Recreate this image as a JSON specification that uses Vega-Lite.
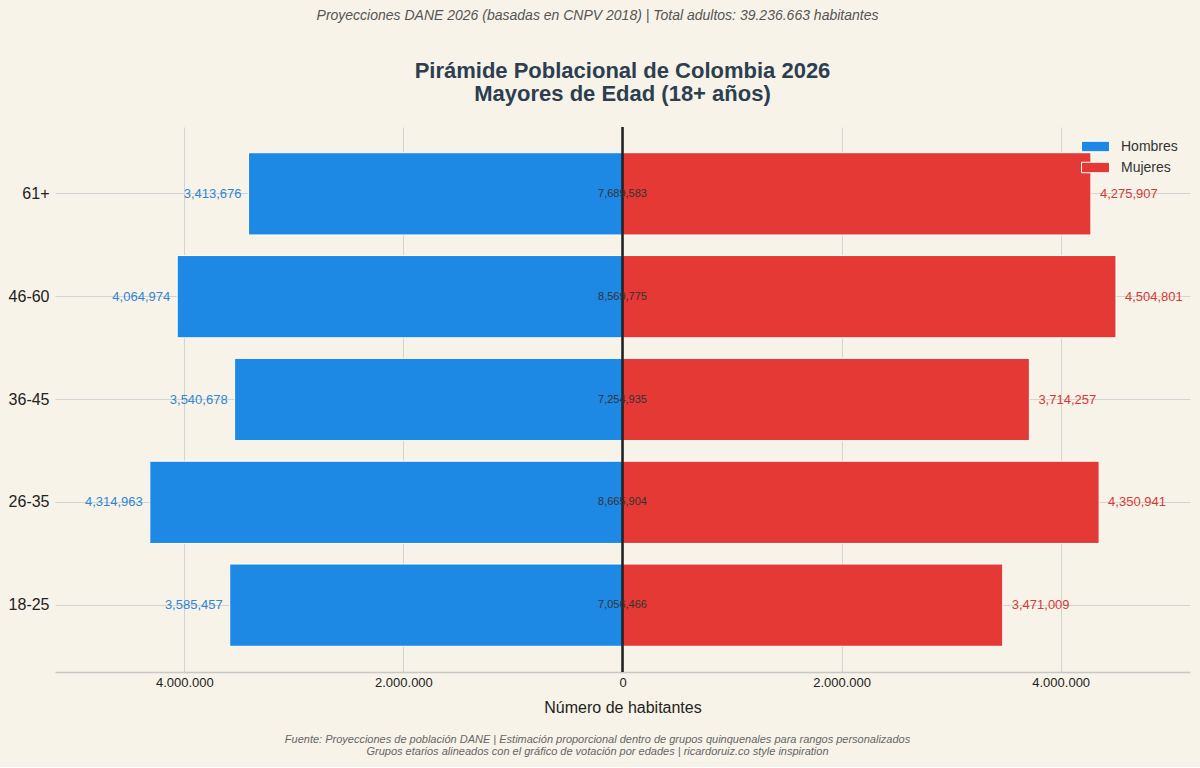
{
  "$schema": "https://vega.github.io/schema/vega-lite/v6.json",
  "background": "#f7f3e8",
  "padding": {"left": 5, "right": 10, "top": 9, "bottom": 10},
  "config": {
    "font": "Liberation Sans",
    "view": {"stroke": null},
    "concat": {"spacing": 0}
  },
  "datasets": {
    "pob": [
      {"edad": "61+", "sexo": "Hombres", "valor": -3413676, "poblacion": 3413676},
      {"edad": "46-60", "sexo": "Hombres", "valor": -4064974, "poblacion": 4064974},
      {"edad": "36-45", "sexo": "Hombres", "valor": -3540678, "poblacion": 3540678},
      {"edad": "26-35", "sexo": "Hombres", "valor": -4314963, "poblacion": 4314963},
      {"edad": "18-25", "sexo": "Hombres", "valor": -3585457, "poblacion": 3585457},
      {"edad": "61+", "sexo": "Mujeres", "valor": 4275907, "poblacion": 4275907},
      {"edad": "46-60", "sexo": "Mujeres", "valor": 4504801, "poblacion": 4504801},
      {"edad": "36-45", "sexo": "Mujeres", "valor": 3714257, "poblacion": 3714257},
      {"edad": "26-35", "sexo": "Mujeres", "valor": 4350941, "poblacion": 4350941},
      {"edad": "18-25", "sexo": "Mujeres", "valor": 3471009, "poblacion": 3471009}
    ],
    "totales": [
      {"edad": "61+", "total": 7689583},
      {"edad": "46-60", "total": 8569775},
      {"edad": "36-45", "total": 7254935},
      {"edad": "26-35", "total": 8665904},
      {"edad": "18-25", "total": 7056466}
    ]
  },
  "title": {
    "text": ["Fuente: Proyecciones de población DANE | Estimación proporcional dentro de grupos quinquenales para rangos personalizados", "Grupos etarios alineados con el gráfico de votación por edades | ricardoruiz.co style inspiration"],
    "orient": "bottom",
    "anchor": "middle",
    "fontSize": 11,
    "fontStyle": "italic",
    "fontWeight": "normal",
    "color": "#666666",
    "lineHeight": 12,
    "offset": 19
  },
  "vconcat": [
    {
      "title": {
        "text": "Proyecciones DANE 2026 (basadas en CNPV 2018) | Total adultos: 39.236.663 habitantes",
        "anchor": "middle",
        "fontSize": 14,
        "fontStyle": "italic",
        "fontWeight": "normal",
        "color": "#555555",
        "offset": 37
      },
      "vconcat": [
        {
          "width": 1135,
          "height": 545,
          "title": {
            "text": ["Pirámide Poblacional de Colombia 2026", "Mayores de Edad (18+ años)"],
            "anchor": "middle",
            "frame": "group",
            "fontSize": 22,
            "fontWeight": "bold",
            "color": "#2c3e50",
            "lineHeight": 23,
            "offset": 20
          },
          "encoding": {
            "y": {
              "field": "edad",
              "type": "nominal",
              "sort": ["61+", "46-60", "36-45", "26-35", "18-25"],
              "scale": {"paddingInner": 0.2, "paddingOuter": 0.25},
              "axis": {
                "title": null,
                "domain": false,
                "ticks": false,
                "grid": true,
                "bandPosition": 0.5,
                "gridColor": "#d3d3d3",
                "gridWidth": 1,
                "labelFontSize": 16,
                "labelColor": "#222222",
                "labelPadding": 6,
                "minExtent": 50,
                "maxExtent": 50
              }
            }
          },
          "layer": [
            {
              "data": {"name": "pob"},
              "mark": {"type": "bar", "stroke": "white", "strokeWidth": 1},
              "encoding": {
                "x": {
                  "field": "valor",
                  "type": "quantitative",
                  "scale": {"domain": [-5180521, 5180521], "nice": false, "zero": false},
                  "axis": {
                    "title": "Número de habitantes",
                    "titleFontSize": 16,
                    "titleFontWeight": "normal",
                    "titleColor": "#222222",
                    "titlePadding": 10,
                    "values": [-4000000, -2000000, 0, 2000000, 4000000],
                    "labelExpr": "replace(replace(format(abs(datum.value), ','), ',', '.'), ',', '.')",
                    "labelFontSize": 13,
                    "labelColor": "#222222",
                    "labelPadding": 4,
                    "ticks": false,
                    "domain": true,
                    "domainColor": "#c8c8c8",
                    "domainWidth": 1.5,
                    "grid": true,
                    "gridColor": "#d3d3d3",
                    "gridWidth": 1
                  }
                },
                "color": {
                  "field": "sexo",
                  "type": "nominal",
                  "scale": {"domain": ["Hombres", "Mujeres"], "range": ["#1e88e5", "#e53935"]},
                  "legend": {
                    "title": null,
                    "orient": "top-right",
                    "offset": 12,
                    "labelFontSize": 14,
                    "labelColor": "#333333",
                    "symbolType": "M-2,-0.75H2V0.75H-2Z",
                    "symbolSize": 196,
                    "symbolStrokeColor": "white",
                    "symbolStrokeWidth": 1,
                    "rowPadding": 6,
                    "labelOffset": 18
                  }
                }
              }
            },
            {
              "data": {"name": "pob"},
              "transform": [{"filter": "datum.sexo === 'Hombres'"}],
              "mark": {"type": "text", "align": "right", "baseline": "middle", "dx": -7, "fontSize": 13, "color": "#2f86d6"},
              "encoding": {
                "x": {"field": "valor", "type": "quantitative"},
                "text": {"field": "poblacion", "type": "quantitative", "format": ","}
              }
            },
            {
              "data": {"name": "pob"},
              "transform": [{"filter": "datum.sexo === 'Mujeres'"}],
              "mark": {"type": "text", "align": "left", "baseline": "middle", "dx": 9, "fontSize": 13, "color": "#d63a37"},
              "encoding": {
                "x": {"field": "valor", "type": "quantitative"},
                "text": {"field": "poblacion", "type": "quantitative", "format": ","}
              }
            },
            {
              "data": {"name": "totales"},
              "mark": {"type": "rule", "color": "#222222", "strokeWidth": 1.5},
              "encoding": {"x": {"datum": 0, "type": "quantitative"}, "y": null}
            },
            {
              "data": {"name": "totales"},
              "mark": {"type": "text", "align": "center", "baseline": "middle", "fontSize": 11, "color": "#333333"},
              "encoding": {
                "x": {"datum": 0, "type": "quantitative"},
                "text": {"field": "total", "type": "quantitative", "format": ","}
              }
            }
          ]
        }
      ]
    }
  ]
}
